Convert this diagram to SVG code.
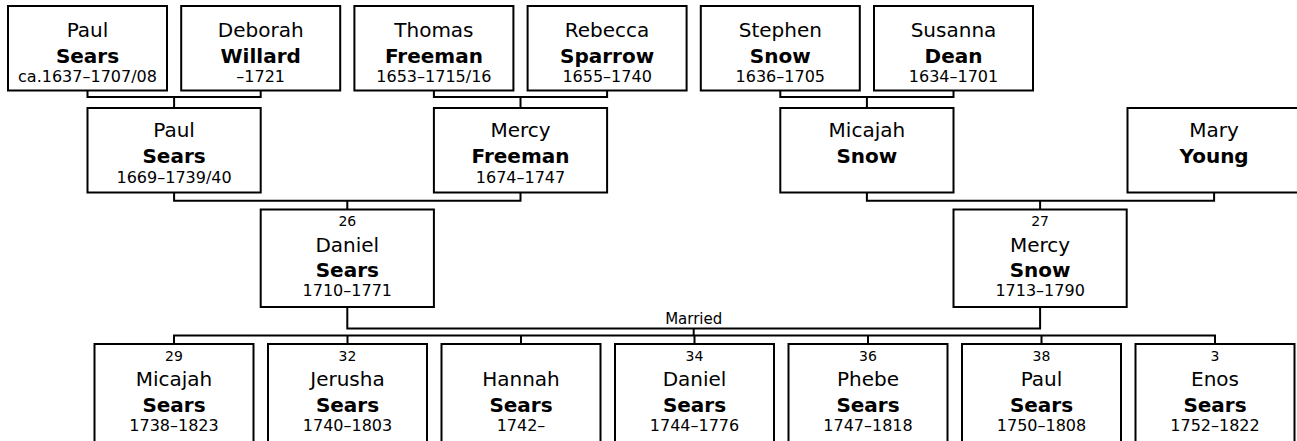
<svg xmlns="http://www.w3.org/2000/svg" width="1297" height="441" viewBox="0 0 1297 441">
<style>
.box{fill:#fff;stroke:#000;stroke-width:2}
.ln{fill:none;stroke:#000;stroke-width:2}
text{font-family:"DejaVu Sans",Verdana,sans-serif;fill:#000;text-anchor:middle}
.num{font-size:14px}
.fn{font-size:20px}
.sn{font-size:20px;font-weight:bold}
.dt{font-size:16px}
.lbl{font-size:15px}
</style>
<rect width="1297" height="441" fill="#fff"/>
<g id="connectors">
<path class="ln" d="M87.5,90.5V97H260.7V90.5M174.1,97V108"/>
<path class="ln" d="M433.9,90.5V97H607.1V90.5M520.5,97V108"/>
<path class="ln" d="M780.3,90.5V97H953.5V90.5M866.9,97V108"/>
<path class="ln" d="M174.1,192.5V200.7H520.5V192.5M347.3,200.7V209.5"/>
<path class="ln" d="M866.9,192.5V200.7H1214.1V192.5M1040.1,200.7V209.5"/>
<path class="ln" d="M347.3,307V328.5H1040.1V307M693.7,328.5V335.5"/>
<path class="ln" d="M174,344V335.5H1215V344M347.5,335.5V344M521,335.5V344M694.5,335.5V344M868,335.5V344M1041.5,335.5V344"/>
<text class="lbl" x="693.7" y="324">Married</text>
</g>
<g id="paul-sears-sr"><rect class="box" x="8" y="6" width="159" height="84.5"/>
<text class="fn" x="87.5" y="36.7">Paul</text><text class="sn" x="87.5" y="62.7">Sears</text><text class="dt" x="87.5" y="82">ca.1637–1707/08</text></g>
<g id="deborah-willard"><rect class="box" x="181.2" y="6" width="159" height="84.5"/>
<text class="fn" x="260.7" y="36.7">Deborah</text><text class="sn" x="260.7" y="62.7">Willard</text><text class="dt" x="260.7" y="82">–1721</text></g>
<g id="thomas-freeman"><rect class="box" x="354.4" y="6" width="159" height="84.5"/>
<text class="fn" x="433.9" y="36.7">Thomas</text><text class="sn" x="433.9" y="62.7">Freeman</text><text class="dt" x="433.9" y="82">1653–1715/16</text></g>
<g id="rebecca-sparrow"><rect class="box" x="527.6" y="6" width="159" height="84.5"/>
<text class="fn" x="607.1" y="36.7">Rebecca</text><text class="sn" x="607.1" y="62.7">Sparrow</text><text class="dt" x="607.1" y="82">1655–1740</text></g>
<g id="stephen-snow"><rect class="box" x="700.8" y="6" width="159" height="84.5"/>
<text class="fn" x="780.3" y="36.7">Stephen</text><text class="sn" x="780.3" y="62.7">Snow</text><text class="dt" x="780.3" y="82">1636–1705</text></g>
<g id="susanna-dean"><rect class="box" x="874" y="6" width="159" height="84.5"/>
<text class="fn" x="953.5" y="36.7">Susanna</text><text class="sn" x="953.5" y="62.7">Dean</text><text class="dt" x="953.5" y="82">1634–1701</text></g>
<g id="paul-sears-jr"><rect class="box" x="87.5" y="108" width="173.2" height="84.5"/>
<text class="fn" x="174.1" y="136.7">Paul</text><text class="sn" x="174.1" y="163">Sears</text><text class="dt" x="174.1" y="183">1669–1739/40</text></g>
<g id="mercy-freeman"><rect class="box" x="433.9" y="108" width="173.2" height="84.5"/>
<text class="fn" x="520.5" y="136.7">Mercy</text><text class="sn" x="520.5" y="163">Freeman</text><text class="dt" x="520.5" y="183">1674–1747</text></g>
<g id="micajah-snow"><rect class="box" x="780.3" y="108" width="173.2" height="84.5"/>
<text class="fn" x="866.9" y="136.7">Micajah</text><text class="sn" x="866.9" y="163">Snow</text></g>
<g id="mary-young"><rect class="box" x="1127.5" y="108" width="173.2" height="84.5"/>
<text class="fn" x="1214.1" y="136.7">Mary</text><text class="sn" x="1214.1" y="163">Young</text></g>
<g id="daniel-sears"><rect class="box" x="260.7" y="209.5" width="173.2" height="97.5"/>
<text class="num" x="347.3" y="226">26</text><text class="fn" x="347.3" y="251.7">Daniel</text><text class="sn" x="347.3" y="276.7">Sears</text><text class="dt" x="347.3" y="296">1710–1771</text></g>
<g id="mercy-snow"><rect class="box" x="953.5" y="209.5" width="173.2" height="97.5"/>
<text class="num" x="1040.1" y="226">27</text><text class="fn" x="1040.1" y="251.7">Mercy</text><text class="sn" x="1040.1" y="276.7">Snow</text><text class="dt" x="1040.1" y="296">1713–1790</text></g>
<g id="micajah-sears"><rect class="box" x="94.5" y="344" width="159" height="98"/>
<text class="num" x="174" y="361">29</text><text class="fn" x="174" y="386">Micajah</text><text class="sn" x="174" y="411.7">Sears</text><text class="dt" x="174" y="430.7">1738–1823</text></g>
<g id="jerusha-sears"><rect class="box" x="268" y="344" width="159" height="98"/>
<text class="num" x="347.5" y="361">32</text><text class="fn" x="347.5" y="386">Jerusha</text><text class="sn" x="347.5" y="411.7">Sears</text><text class="dt" x="347.5" y="430.7">1740–1803</text></g>
<g id="hannah-sears"><rect class="box" x="441.5" y="344" width="159" height="98"/>
<text class="fn" x="521" y="386">Hannah</text><text class="sn" x="521" y="411.7">Sears</text><text class="dt" x="521" y="430.7">1742–</text></g>
<g id="daniel-sears-jr"><rect class="box" x="615" y="344" width="159" height="98"/>
<text class="num" x="694.5" y="361">34</text><text class="fn" x="694.5" y="386">Daniel</text><text class="sn" x="694.5" y="411.7">Sears</text><text class="dt" x="694.5" y="430.7">1744–1776</text></g>
<g id="phebe-sears"><rect class="box" x="788.5" y="344" width="159" height="98"/>
<text class="num" x="868" y="361">36</text><text class="fn" x="868" y="386">Phebe</text><text class="sn" x="868" y="411.7">Sears</text><text class="dt" x="868" y="430.7">1747–1818</text></g>
<g id="paul-sears-iii"><rect class="box" x="962" y="344" width="159" height="98"/>
<text class="num" x="1041.5" y="361">38</text><text class="fn" x="1041.5" y="386">Paul</text><text class="sn" x="1041.5" y="411.7">Sears</text><text class="dt" x="1041.5" y="430.7">1750–1808</text></g>
<g id="enos-sears"><rect class="box" x="1135.5" y="344" width="159" height="98"/>
<text class="num" x="1215" y="361">3</text><text class="fn" x="1215" y="386">Enos</text><text class="sn" x="1215" y="411.7">Sears</text><text class="dt" x="1215" y="430.7">1752–1822</text></g>
</svg>
